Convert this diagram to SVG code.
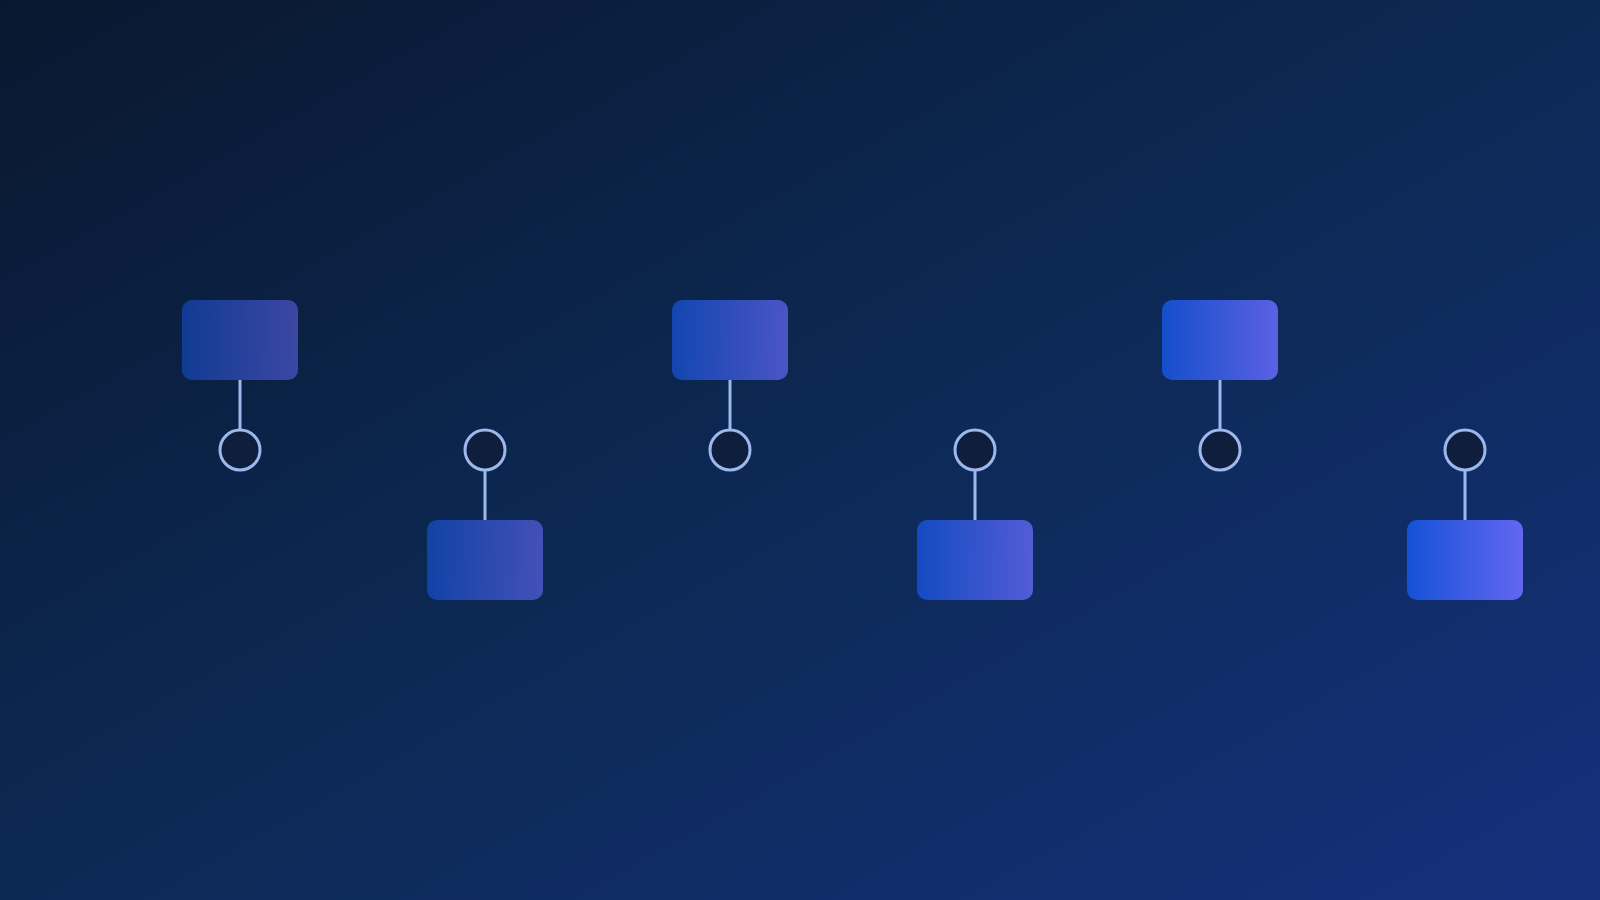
<svg xmlns="http://www.w3.org/2000/svg" width="1600" height="900" viewBox="0 0 1600 900">
  <defs>
    <linearGradient id="bg" x1="0" y1="0" x2="1" y2="1">
      <stop offset="0" stop-color="#0a1730"/>
      <stop offset="0.5" stop-color="#0c2954"/>
      <stop offset="1" stop-color="#15317d"/>
    </linearGradient>
    <linearGradient id="box" x1="0" y1="0" x2="1" y2="0">
      <stop offset="0" stop-color="#1552d6"/>
      <stop offset="1" stop-color="#6366f1"/>
    </linearGradient>
  </defs>
  <style>
    .box { fill: url(#box); }
    .dot { fill: #0f1e3d; stroke: #9db8ec; stroke-width: 3; }
    .link { stroke: #9db8ec; stroke-width: 3; fill: none; }
  </style>
  <rect x="0" y="0" width="1600" height="900" fill="url(#bg)"/>
  <g id="connectors">
    <line class="link" x1="240" y1="380" x2="240" y2="430"/>
    <line class="link" x1="485" y1="470" x2="485" y2="520"/>
    <line class="link" x1="730" y1="380" x2="730" y2="430"/>
    <line class="link" x1="975" y1="470" x2="975" y2="520"/>
    <line class="link" x1="1220" y1="380" x2="1220" y2="430"/>
    <line class="link" x1="1465" y1="470" x2="1465" y2="520"/>
  </g>
  <g id="node1"><rect class="box" x="182" y="300" width="116" height="80" rx="10" opacity="0.55"/><circle class="dot" cx="240" cy="450" r="20"/></g>
  <g id="node2"><rect class="box" x="427" y="520" width="116" height="80" rx="10" opacity="0.64"/><circle class="dot" cx="485" cy="450" r="20"/></g>
  <g id="node3"><rect class="box" x="672" y="300" width="116" height="80" rx="10" opacity="0.73"/><circle class="dot" cx="730" cy="450" r="20"/></g>
  <g id="node4"><rect class="box" x="917" y="520" width="116" height="80" rx="10" opacity="0.82"/><circle class="dot" cx="975" cy="450" r="20"/></g>
  <g id="node5"><rect class="box" x="1162" y="300" width="116" height="80" rx="10" opacity="0.91"/><circle class="dot" cx="1220" cy="450" r="20"/></g>
  <g id="node6"><rect class="box" x="1407" y="520" width="116" height="80" rx="10" opacity="1"/><circle class="dot" cx="1465" cy="450" r="20"/></g>
</svg>
